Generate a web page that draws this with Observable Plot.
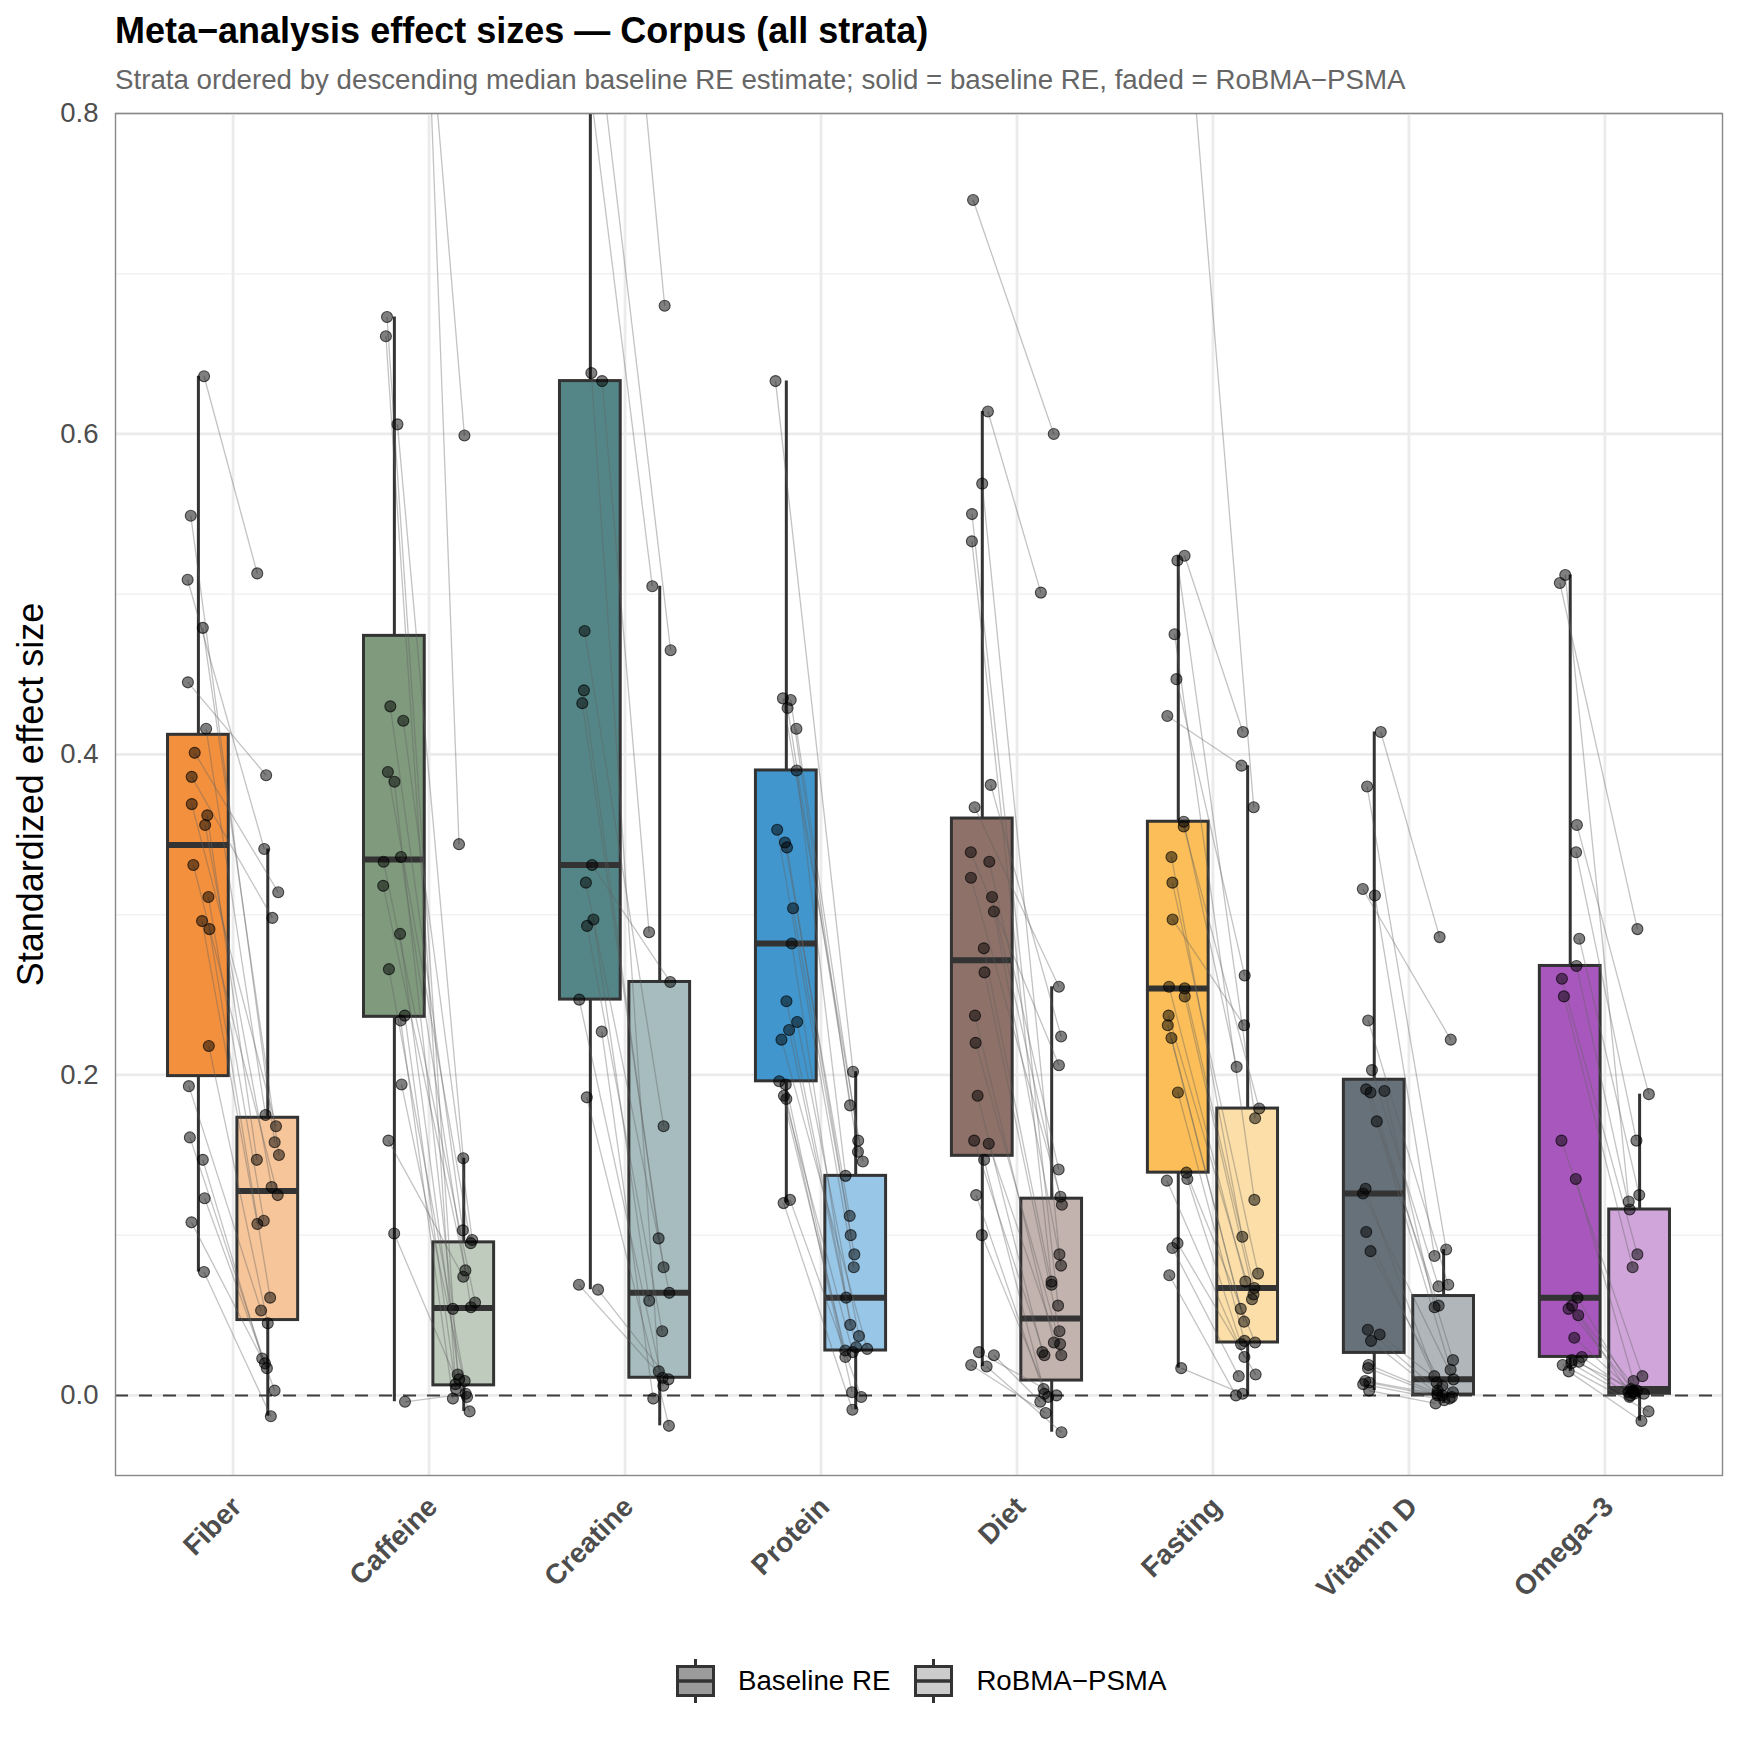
<!DOCTYPE html>
<html>
<head>
<meta charset="utf-8">
<script src="https://cdn.jsdelivr.net/npm/d3@7"></script>
<script src="https://cdn.jsdelivr.net/npm/@observablehq/plot@0.6"></script>
<style>
  body { margin: 0; background: #fff; font-family: "Liberation Sans", Arial, Helvetica, sans-serif; }
  #root { position: relative; width: 1739px; height: 1739px; background: #fff; overflow: hidden; }
  #title { position: absolute; left: 115px; top: 13px; font-size: 36px; font-weight: bold; line-height: 36px; color: #000; white-space: nowrap; }
  #subtitle { position: absolute; left: 115px; top: 66px; font-size: 27.7px; line-height: 28px; color: #666; white-space: nowrap; }
  #chart { position: absolute; left: 0; top: 100px; }
  #legend { position: absolute; left: 676px; top: 1659px; display: flex; align-items: center; font-size: 27.7px; color: #000; white-space: nowrap; }
  #legend svg { display: block; }
</style>
</head>
<body>
<div id="root">
  <div id="title">Meta−analysis effect sizes — Corpus (all strata)</div>
  <div id="subtitle">Strata ordered by descending median baseline RE estimate; solid = baseline RE, faded = RoBMA−PSMA</div>
  <div id="chart"></div>
  <div id="legend"></div>
</div>
<script>
// ---- Data ----
const strata = ["Fiber", "Caffeine", "Creatine", "Protein", "Diet", "Fasting", "Vitamin D", "Omega−3"];
const seriesNames = ["Baseline RE", "RoBMA−PSMA"];

// Paired by index: baseline RE estimate -> RoBMA-PSMA estimate (values above 0.8 are off-panel)
const baseFiber = [0.636, 0.549, 0.509, 0.479, 0.445, 0.416, 0.401, 0.386, 0.369, 0.362, 0.356, 0.331, 0.311, 0.296, 0.291, 0.218, 0.193, 0.161, 0.147, 0.123, 0.108, 0.077];
const robmaFiber = [0.513, 0.158, 0.341, 0.150, 0.387, 0.175, 0.314, 0.298, 0.168, 0.147, 0.130, 0.125, 0.109, 0.107, 0.061, 0.045, 0.053, 0.020, 0.023, 0.003, 0.017, -0.013];

const baseCaffeine = [1.50, 1.05, 0.673, 0.661, 0.606, 0.430, 0.421, 0.389, 0.383, 0.336, 0.333, 0.318, 0.288, 0.266, 0.237, 0.234, 0.194, 0.159, 0.101, -0.004];
const robmaCaffeine = [0.344, 0.599, 0.013, 0.007, 0.148, 0.103, 0.097, 0.095, 0.054, 0.055, 0.058, 0.078, 0.010, 0.009, 0.004, -0.002, -0.001, 0.074, -0.010, 0.001];

const baseCreatine = [1.10, 0.87, 0.83, 0.638, 0.633, 0.477, 0.440, 0.432, 0.331, 0.320, 0.297, 0.293, 0.247, 0.227, 0.186, 0.069, 0.066];
const robmaCreatine = [0.680, 0.505, 0.465, 0.015, 0.289, 0.168, 0.098, 0.080, 0.258, 0.064, 0.059, 0.040, 0.006, -0.002, -0.019, 0.011, 0.010];

const baseProtein = [0.633, 0.435, 0.434, 0.429, 0.416, 0.390, 0.353, 0.345, 0.342, 0.304, 0.282, 0.246, 0.233, 0.228, 0.222, 0.196, 0.194, 0.187, 0.185, 0.122, 0.120];
const robmaProtein = [0.202, 0.146, 0.181, 0.152, 0.159, 0.137, 0.080, 0.112, 0.100, 0.088, 0.044, 0.061, 0.037, 0.030, 0.029, 0.028, 0.024, 0.027, 0.002, -0.001, -0.009];

const baseDiet = [0.746, 0.614, 0.569, 0.550, 0.533, 0.381, 0.367, 0.339, 0.333, 0.323, 0.311, 0.302, 0.279, 0.264, 0.237, 0.220, 0.187, 0.159, 0.157, 0.147, 0.125, 0.100, 0.027, 0.025, 0.019, 0.018];
const robmaDiet = [0.600, 0.501, 0.088, 0.056, 0.071, 0.224, 0.255, 0.206, 0.141, 0.124, 0.119, 0.081, 0.069, 0.040, 0.033, 0.032, 0.027, 0.025, 0.025, 0.004, 0.001, -0.001, 0.000, -0.004, -0.011, -0.023];

const baseFasting = [0.90, 0.524, 0.521, 0.475, 0.447, 0.424, 0.358, 0.355, 0.336, 0.320, 0.297, 0.255, 0.254, 0.249, 0.237, 0.231, 0.223, 0.189, 0.139, 0.135, 0.134, 0.095, 0.092, 0.075, 0.017];
const robmaFasting = [0.367, 0.414, 0.173, 0.122, 0.262, 0.393, 0.205, 0.179, 0.099, 0.076, 0.231, 0.071, 0.067, 0.063, 0.060, 0.054, 0.046, 0.034, 0.033, 0.032, 0.024, 0.013, 0.012, 0.000, 0.001];

const baseVitaminD = [0.414, 0.380, 0.316, 0.312, 0.234, 0.203, 0.191, 0.190, 0.189, 0.171, 0.129, 0.126, 0.102, 0.090, 0.041, 0.038, 0.034, 0.019, 0.017, 0.009, 0.008, 0.007, 0.003];
const robmaVitaminD = [0.286, 0.091, 0.222, 0.087, 0.069, 0.068, 0.056, 0.055, 0.022, 0.016, 0.012, 0.010, 0.008, 0.006, 0.003, 0.002, 0.001, 0.000, 0.000, -0.001, -0.002, -0.003, -0.005];

const baseOmega3 = [0.512, 0.507, 0.356, 0.339, 0.285, 0.268, 0.260, 0.249, 0.159, 0.135, 0.061, 0.056, 0.054, 0.050, 0.036, 0.024, 0.022, 0.021, 0.020, 0.019, 0.015];
const robmaOmega3 = [0.121, 0.291, 0.188, 0.159, 0.125, 0.116, 0.088, 0.080, 0.012, 0.009, 0.004, 0.003, 0.003, 0.002, 0.002, 0.001, 0.001, 0.000, -0.001, -0.010, -0.016];

const yTicks = [0, 0.2, 0.4, 0.6, 0.8];
const yMinorTicks = [0.1, 0.3, 0.5, 0.7];

// ---- Styles ----
const baseFill = ["#F2903E", "#7F9A7D", "#548687", "#4196CD", "#8E7168", "#FBBE58", "#66717A", "#A858BC"];
const robmaFill = ["#F7C59A", "#BFCBBD", "#A6BCBF", "#98C6E6", "#C3B3AE", "#FBDEA8", "#B1B6BA", "#D0A6DA"];
const legendFill = ["#9B9B9B", "#CCCCCC"];

const baseline = [baseFiber, baseCaffeine, baseCreatine, baseProtein, baseDiet, baseFasting, baseVitaminD, baseOmega3];
const robma = [robmaFiber, robmaCaffeine, robmaCreatine, robmaProtein, robmaDiet, robmaFasting, robmaVitaminD, robmaOmega3];

const DODGE = 0.177, HALF = 0.155, JIT = 0.06;

function boxStats(values) {
  const s = values.slice().sort(d3.ascending);
  const q1 = d3.quantileSorted(s, 0.25), med = d3.quantileSorted(s, 0.5), q3 = d3.quantileSorted(s, 0.75);
  const iqr = q3 - q1;
  const hi = d3.max(s.filter(v => v <= q3 + 1.5 * iqr));
  const lo = d3.min(s.filter(v => v >= q1 - 1.5 * iqr));
  return {q1, med, q3, lo, hi};
}

const boxes = [];
strata.forEach((name, i) => {
  [[baseline[i], -DODGE, baseFill[i]], [robma[i], DODGE, robmaFill[i]]].forEach(([vals, off, fill]) => {
    const st = boxStats(vals);
    const xc = i + 1 + off;
    boxes.push({...st, xc, x1: xc - HALF, x2: xc + HALF, fill});
  });
});

// position_jitter equivalent (seeded)
const jitter = d3.randomUniform.source(d3.randomLcg(0.4242))(-JIT, JIT);
const pairs = [];
strata.forEach((name, i) => {
  baseline[i].forEach((b, j) => {
    pairs.push({xb: i + 1 - DODGE + jitter(), yb: b, xr: i + 1 + DODGE + jitter(), yr: robma[i][j]});
  });
});
const pts = pairs.flatMap(p => [{x: p.xb, y: p.yb}, {x: p.xr, y: p.yr}]);

const chart = Plot.plot({
  width: 1739,
  height: 1520,
  marginTop: 13,
  marginBottom: 145,
  marginLeft: 115,
  marginRight: 17,
  x: {domain: [0.4, 8.6], axis: null},
  y: {domain: [-0.05, 0.8], axis: null},
  color: {type: "identity"},
  style: {fontFamily: "Liberation Sans, Arial, Helvetica, sans-serif", background: "#fff", overflow: "visible"},
  marks: [
    Plot.gridY(yMinorTicks, {stroke: "#F2F2F2", strokeOpacity: 1, strokeWidth: 1.5}),
    Plot.gridY(yTicks, {stroke: "#EBEBEB", strokeOpacity: 1, strokeWidth: 2.8}),
    Plot.gridX(d3.range(1, strata.length + 1), {stroke: "#EBEBEB", strokeOpacity: 1, strokeWidth: 2.8}),
    Plot.ruleY([0], {stroke: "#404040", strokeWidth: 2, strokeDasharray: "13,11"}),
    Plot.ruleX(boxes, {x: "xc", y1: "q3", y2: "hi", stroke: "#333", strokeWidth: 3, clip: true}),
    Plot.ruleX(boxes, {x: "xc", y1: "lo", y2: "q1", stroke: "#333", strokeWidth: 3, clip: true}),
    Plot.rect(boxes, {x1: "x1", x2: "x2", y1: "q1", y2: "q3", fill: "fill", stroke: "#333", strokeWidth: 3, clip: true}),
    Plot.ruleY(boxes, {y: "med", x1: "x1", x2: "x2", stroke: "#333", strokeWidth: 6}),
    Plot.link(pairs, {x1: "xb", y1: "yb", x2: "xr", y2: "yr", stroke: "#606060", strokeOpacity: 0.38, strokeWidth: 1.3, clip: true}),
    Plot.dot(pts, {x: "x", y: "y", r: 5.5, fill: "#000", fillOpacity: 0.5, stroke: "#000", strokeOpacity: 0.65, strokeWidth: 1.1, clip: true}),
    Plot.frame({stroke: "#888", strokeWidth: 1.4}),
    Plot.axisY(yTicks, {tickFormat: d => d.toFixed(1), tickSize: 0, tickPadding: 17, fontSize: 27.5, fill: "#4D4D4D", label: null}),
    Plot.axisX(d3.range(1, strata.length + 1), {tickFormat: d => strata[d - 1], tickSize: 0, tickPadding: 19, tickRotate: -45, textAnchor: "end", lineAnchor: "top", dx: -4, fontSize: 28, fontWeight: "bold", fill: "#4D4D4D", label: null}),
    Plot.text(["Standardized effect size"], {text: d => d, frameAnchor: "left", dx: -84, rotate: -90, textAnchor: "middle", lineAnchor: "middle", fontSize: 36, fill: "#000"})
  ]
});
document.getElementById("chart").appendChild(chart);

// ---- Legend ----
const legend = document.getElementById("legend");
seriesNames.forEach((name, k) => {
  const svg = d3.create("svg").attr("width", 39).attr("height", 44);
  svg.append("line").attr("x1", 19.5).attr("x2", 19.5).attr("y1", 0).attr("y2", 44).attr("stroke", "#333").attr("stroke-width", 3);
  svg.append("rect").attr("x", 1.5).attr("y", 7.5).attr("width", 36).attr("height", 29).attr("fill", legendFill[k]).attr("stroke", "#333").attr("stroke-width", 3);
  svg.append("line").attr("x1", 1.5).attr("x2", 37.5).attr("y1", 22).attr("y2", 22).attr("stroke", "#333").attr("stroke-width", 3.5);
  const item = document.createElement("div");
  item.style.display = "flex";
  item.style.alignItems = "center";
  item.style.marginRight = k === 0 ? "24px" : "0";
  item.appendChild(svg.node());
  const label = document.createElement("span");
  label.textContent = name;
  label.style.marginLeft = "23px";
  item.appendChild(label);
  legend.appendChild(item);
});
</script>
</body>
</html>
